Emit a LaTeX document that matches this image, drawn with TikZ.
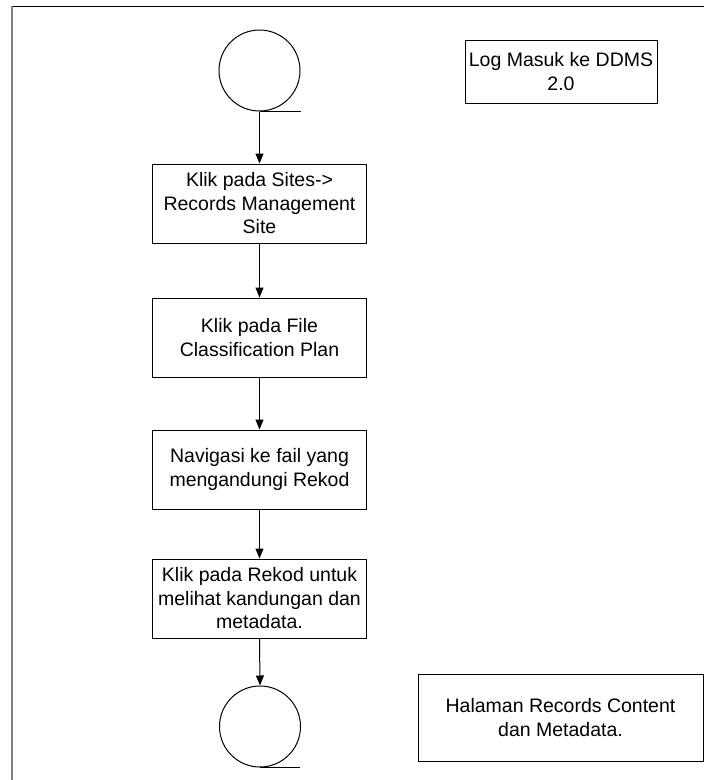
\documentclass[tikz,border=0pt]{standalone}
\usepackage{fontspec}
\setmainfont{Liberation Sans}
\usetikzlibrary{arrows.meta}
\begin{document}
\begin{tikzpicture}[x=1pt,y=-1pt,
  txt/.style={font=\fontsize{19.5}{23.5}\selectfont, align=center, inner sep=0pt},
  stepbox/.style={txt, draw, line width=1pt, minimum width=214pt, minimum height=79pt},
  termc/.style={draw, circle, line width=1pt, minimum size=81pt, inner sep=0pt},
  notebox/.style={txt, draw, line width=1pt},
  flow/.style={line width=1pt, -{Triangle[length=10pt,width=8pt]}}]
\useasboundingbox (0,0) rectangle (704,780);
% frame
\draw[line width=1pt] (12,6) -- (705,6);
\draw[line width=2pt, gray] (12,6) -- (12,781);
% terminals
\node[termc] (start) at (259.5,70.5) {};
\draw[line width=1pt] (start.south) -- ++(41,0);
\node[termc] (end) at (260,726.5) {};
\draw[line width=1pt] (end.south) -- ++(40,0);
% steps
\node[stepbox] (s1) at (259.5,203.5) {Klik pada Sites->\\Records Management\\Site};
\node[stepbox] (s2) at (259.5,337.5) {Klik pada File\\Classification Plan};
\node[stepbox] (s3) at (259.5,469.5) {Navigasi ke fail yang\\mengandungi Rekod};
\node[stepbox] (s4) at (259.5,598.5) {Klik pada Rekod untuk\\melihat kandungan dan\\metadata.};
% notes
\node[notebox, minimum width=192pt, minimum height=63pt] (n1) at (561,71.5) {Log Masuk ke DDMS\\2.0};
\node[notebox, minimum width=285pt, minimum height=87pt] (n2) at (560.5,717.5) {Halaman Records Content\\dan Metadata.};
% connectors
\draw[flow] (start.south) -- (s1.north);
\draw[flow] (s1.south) -- (s2.north);
\draw[flow] (s2.south) -- (s3.north);
\draw[flow] (s3.south) -- (s4.north);
\draw[flow] (s4.south) -- (end.north);
\end{tikzpicture}
\end{document}
